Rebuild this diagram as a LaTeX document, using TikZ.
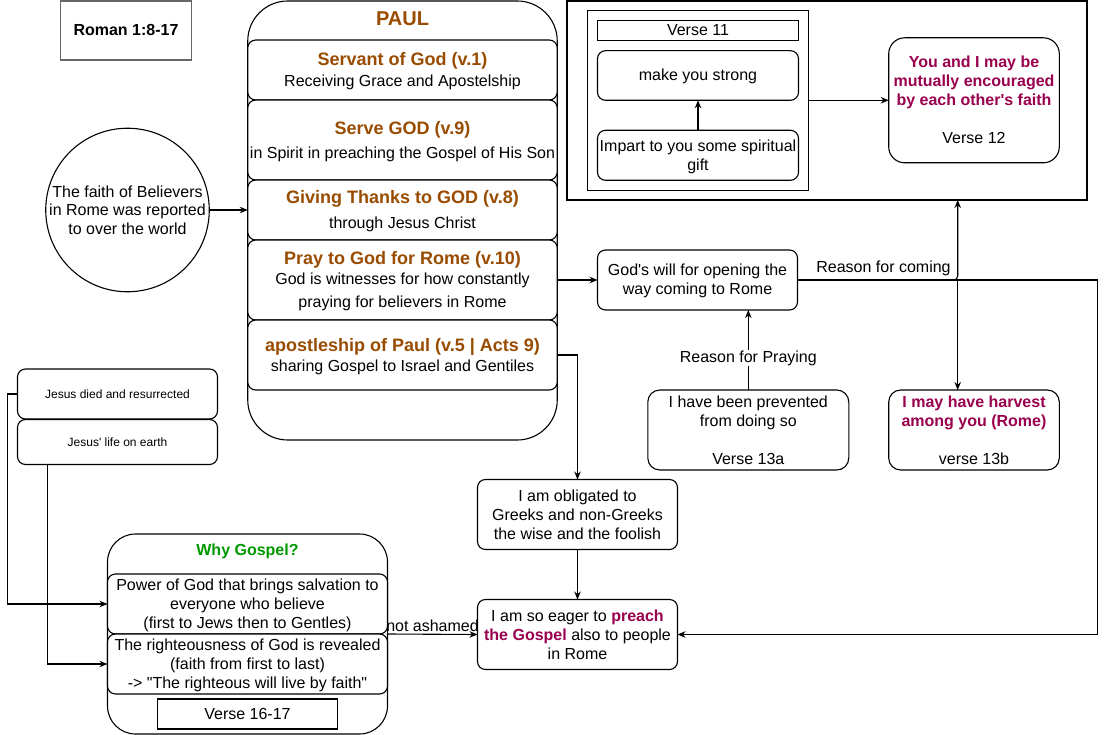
\documentclass[tikz,border=0pt]{standalone}
\usepackage{fontspec}
\setmainfont{Liberation Sans}[Ligatures=TeXOff]
\usetikzlibrary{arrows.meta}
\definecolor{brownt}{HTML}{994C00}
\definecolor{magt}{HTML}{99004D}
\definecolor{greent}{HTML}{009900}
\newcommand{\bodyfs}{\fontsize{16}{19}\selectfont}
\newcommand{\smallfs}{\fontsize{12}{14}\selectfont}
\newcommand{\stA}{\rule{0pt}{15.1pt}}
\newcommand{\stT}{\rule{0pt}{17pt}}
\newcommand{\stZ}{\rule[-4.1pt]{0pt}{4.1pt}}
\newcommand{\ttl}[1]{{\fontsize{18}{21}\selectfont\bfseries\color{brownt}\stT#1}}
\newcommand{\mg}[1]{{\bfseries\color{magt}#1}}
\begin{document}
\begin{tikzpicture}[x=1pt,y=-1pt,
  base/.style={draw, line width=1.1pt, fill=white, inner sep=0pt, outer sep=0pt, align=center, font=\bodyfs},
  rbox/.style={base, rounded corners=8pt},
  sbox/.style={base},
  sz/.style 2 args={minimum width=#1pt, minimum height=#2pt},
  lbl/.style={inner sep=1pt, font=\bodyfs, fill=white},
  arr/.style={line width=1.1pt, -{Stealth[length=8pt,width=6.5pt]}},
]
\useasboundingbox (0,0) rectangle (1106,735);

% Title box
\node[sbox, draw=black!60, line width=1.4pt, sz={131}{59}, font=\bodyfs\bfseries] (roman) at (126,30.5) {\stA Roman 1:8-17\stZ};

% PAUL container
\node[base, rounded corners=40pt, sz={309.5}{439}] (paul) at (402.5,220.5) {};
\node[font=\fontsize{20}{24}\selectfont\bfseries, text=brownt, inner sep=0pt] (paulttl) at (402.5,19) {PAUL};
\node[rbox, sz={309.5}{60}] (servant) at (402.5,70) {\ttl{Servant of God (v.1)}\\[2pt]Receiving Grace and Apostelship\stZ};
\node[rbox, sz={309.5}{80}] (serve) at (402.5,140) {\ttl{Serve GOD (v.9)}\\[5pt]in Spirit in preaching the Gospel of His Son\stZ};
\node[rbox, sz={309.5}{60}] (giving) at (402.5,210) {\ttl{Giving Thanks to GOD (v.8)}\\[6pt]through Jesus Christ\stZ};
\node[rbox, sz={309.5}{80}] (pray) at (402.5,280) {\ttl{Pray to God for Rome (v.10)}\\[1pt]God is witnesses for how constantly\\[4pt]praying for believers in Rome\stZ};
\node[rbox, sz={309.5}{70}] (apost) at (402.5,355) {\ttl{apostleship of Paul (v.5 | Acts 9)}\\[1pt]sharing Gospel to Israel and Gentiles\stZ};

% faith circle
\node[base, circle, minimum size=160pt, font=\fontsize{16}{18.5}\selectfont] (faith) at (127.5,210) {The faith of Believers\\in Rome was reported\\to over the world};

% top right group
\node[sbox, sz={520}{199}] (outer) at (827,100.5) {};
\node[sbox, sz={221}{180}] (inner) at (698,100.3) {};
\node[sbox, sz={201}{19.6}] (v11) at (698,30.5) {Verse 11};
\node[rbox, sz={201}{49.6}] (strong) at (698,75.5) {\stA make you strong\stZ};
\node[rbox, sz={201}{50}] (impart) at (698,155.3) {\stA Impart to you some spiritual\\gift\stZ};
\node[rbox, rounded corners=16pt, sz={170.6}{125}] (you) at (974,100.3) {\stA\mg{You and I may be}\\\mg{mutually encouraged}\\\mg{by each other's faith}\\[19pt]Verse 12\stZ};

% middle right
\node[rbox, sz={200}{60}] (gods) at (697.5,280) {\stA God's will for opening the\\way coming to Rome\stZ};
\node[rbox, rounded corners=12pt, sz={201}{80}] (prev) at (748.3,430) {\stA I have been prevented\\from doing so\\[19pt]Verse 13a\stZ};
\node[rbox, rounded corners=12pt, sz={170.6}{80}] (harvest) at (974,430) {\stA\mg{I may have harvest}\\\mg{among you (Rome)}\\[19pt]verse 13b\stZ};
\node[rbox, sz={200}{70}] (oblig) at (577.5,514.5) {\stA I am obligated to\\Greeks and non-Greeks\\the wise and the foolish\stZ};
\node[rbox, sz={200}{70}] (eager) at (577.5,634.5) {\stA I am so eager to \mg{preach}\\\mg{the Gospel} also to people\\in Rome\stZ};

% Jesus boxes
\node[rbox, sz={200}{50}, font=\smallfs] (jd) at (117.5,394) {Jesus died and resurrected};
\node[rbox, sz={200}{45}, font=\smallfs] (jl) at (117.5,442) {Jesus' life on earth};

% Why Gospel container
\node[base, rounded corners=28pt, sz={280}{200}] (why) at (247.5,634) {};
\node[font=\bodyfs\bfseries, text=greent, inner sep=0pt] (whyttl) at (247.5,551) {Why Gospel?};
\node[rbox, sz={280}{60}] (power) at (247.5,604) {\stA Power of God that brings salvation to\\everyone who believe\\(first to Jews then to Gentles)\stZ};
\node[rbox, sz={280}{60}] (righteous) at (247.5,664) {\stA The righteousness of God is revealed\\(faith from first to last)\\-> "The righteous will live by faith"\stZ};
\node[sbox, sz={180}{30}] (v1617) at (247.5,714) {\stA Verse 16-17\stZ};

% coordinates
\coordinate (j) at (957.7,280);
\coordinate (r) at (1097.3,280);

% connectors
\draw[arr] (faith.east) -- (giving.west);
\draw[arr] (pray.east) -- (gods.west);
\draw[arr] (apost.east) -| (oblig.north);
\draw[arr] (oblig.south) -- (eager.north);
\draw[arr] (impart.north) -- (strong.south);
\draw[arr] (inner.east) -- (you.west);
\draw[arr] (prev.north) -- node[lbl, pos=0.4] (rfp) {Reason for Praying} (prev.north |- gods.south);
\draw[arr, rounded corners=4pt] (gods.east) -- (j) -- (j |- outer.south);
\node[font=\bodyfs, inner sep=0pt] (rfc) at (883.5,268) {Reason for coming};
\draw[arr] (j) -- (j |- harvest.north);
\draw[arr] (gods.east) -- (r) |- (eager.east);
\draw[arr] (jd.west) -- ++(-10,0) |- (power.west);
\draw[arr] (jl.south west) ++(30,0) |- (righteous.west);
\draw[arr] (why.east) -- node[above, inner sep=2pt, font=\bodyfs] (na) {not ashamed} (eager.west);
\end{tikzpicture}
\end{document}
